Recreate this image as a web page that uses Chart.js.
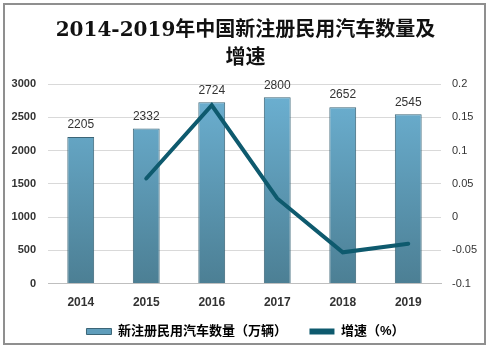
<!DOCTYPE html>
<html>
<head>
<meta charset="utf-8">
<script src="https://cdn.jsdelivr.net/npm/chart.js@4/dist/chart.umd.min.js"></script>
<style>
    html, body { margin: 0; padding: 0; background: #fff; }
    #box { position: relative; width: 491px; height: 348px; }
    #frame {
        position: absolute; left: 3px; top: 3px; width: 483px; height: 342px;
        box-sizing: border-box; border: 2px solid #8f8f8f; pointer-events: none;
    }
    canvas { position: absolute; left: 0; top: 0; }
</style>
</head>
<body>
<div id="box">
    <canvas id="grafico" width="491" height="348"></canvas>
    <div id="frame"></div>
</div>
<script>
// dados
const anos = ['2014', '2015', '2016', '2017', '2018', '2019'];
const quantidade = [2205, 2332, 2724, 2800, 2652, 2545];
const crescimento = [null, 0.058, 0.168, 0.028, -0.053, -0.040];
const titulo = ['2014-2019年中国新注册民用汽车数量及', '增速'];
const nomeBarras = '新注册民用汽车数量（万辆）';
const nomeLinha = '增速（%）';

const corLinha = '#0e5a6e';
const fonteSans = "'Liberation Sans', Arial, 'Noto Sans CJK SC', sans-serif";

// rótulos acima das barras
const rotulosBarras = {
    id: 'rotulosBarras',
    afterDatasetsDraw(chart) {
        const ctx = chart.ctx;
        const meta = chart.getDatasetMeta(0);
        ctx.save();
        ctx.font = '12px ' + fonteSans;
        ctx.fillStyle = '#333';
        ctx.textAlign = 'center';
        ctx.textBaseline = 'middle';
        meta.data.forEach((bar, i) => {
            ctx.fillText(quantidade[i], bar.x, bar.y - 12);
        });
        ctx.restore();
    }
};

function gradienteBarra(context) {
    const area = context.chart.chartArea;
    if (!area) return '#5d9ab8';
    const g = context.chart.ctx.createLinearGradient(0, area.top, 0, area.bottom);
    g.addColorStop(0, '#6db2d4');
    g.addColorStop(1, '#4c7f94');
    return g;
}

new Chart(document.getElementById('grafico'), {
    type: 'bar',
    data: {
        labels: anos,
        datasets: [{
            type: 'bar',
            label: nomeBarras,
            data: quantidade,
            yAxisID: 'y',
            backgroundColor: gradienteBarra,
            borderColor: '#3b6577',
            borderWidth: 1,
            categoryPercentage: 1,
            barPercentage: 0.41,
            order: 2
        }, {
            type: 'line',
            label: nomeLinha,
            data: crescimento,
            yAxisID: 'y1',
            borderColor: corLinha,
            backgroundColor: corLinha,
            borderWidth: 4,
            pointRadius: 0,
            tension: 0,
            borderCapStyle: 'round',
            order: 1
        }]
    },
    options: {
        responsive: false,
        animation: false,
        layout: { padding: 0 },
        plugins: {
            title: {
                display: true,
                text: titulo,
                color: '#111',
                font: { family: "'DejaVu Serif', 'Noto Sans CJK SC', serif", size: 20, weight: 'bold', lineHeight: 1.4 },
                padding: { top: 17, bottom: 11 }
            },
            legend: {
                position: 'bottom',
                labels: {
                    color: '#333',
                    boxWidth: 25,
                    boxHeight: 6,
                    padding: 3,
                    font: { family: fonteSans, size: 13, weight: 'bold' },
                    generateLabels(chart) {
                        // espaços no fim para afastar o segundo item
                        return [{
                            text: nomeBarras + '\u3000\u3000', fillStyle: '#5f9dbb', strokeStyle: '#3b6577',
                            lineWidth: 1, datasetIndex: 0
                        }, {
                            text: nomeLinha, fillStyle: corLinha, strokeStyle: corLinha,
                            lineWidth: 0, datasetIndex: 1
                        }];
                    }
                }
            },
            tooltip: { enabled: false }
        },
        scales: {
            x: {
                grid: { display: false, drawTicks: false },
                border: { display: true, color: '#bfbfbf' },
                ticks: { color: '#333', padding: 12, font: { family: fonteSans, size: 12, weight: 'bold' } }
            },
            y: {
                position: 'left',
                min: 0,
                max: 3000,
                ticks: {
                    stepSize: 500, padding: 12, color: '#333',
                    font: { family: fonteSans, size: 11, weight: 'bold' },
                    callback: v => String(v)
                },
                grid: { color: '#d9d9d9', drawTicks: false },
                border: { display: false },
                afterFit(scale) { scale.width = 48; }
            },
            y1: {
                position: 'right',
                min: -0.1,
                max: 0.2,
                ticks: {
                    stepSize: 0.05, padding: 11, color: '#333',
                    font: { family: fonteSans, size: 11 },
                    callback: v => String(+v.toFixed(2))
                },
                grid: { display: false, drawTicks: false },
                border: { display: false },
                afterFit(scale) { scale.width = 50; }
            }
        }
    },
    plugins: [rotulosBarras]
});
</script>
</body>
</html>
